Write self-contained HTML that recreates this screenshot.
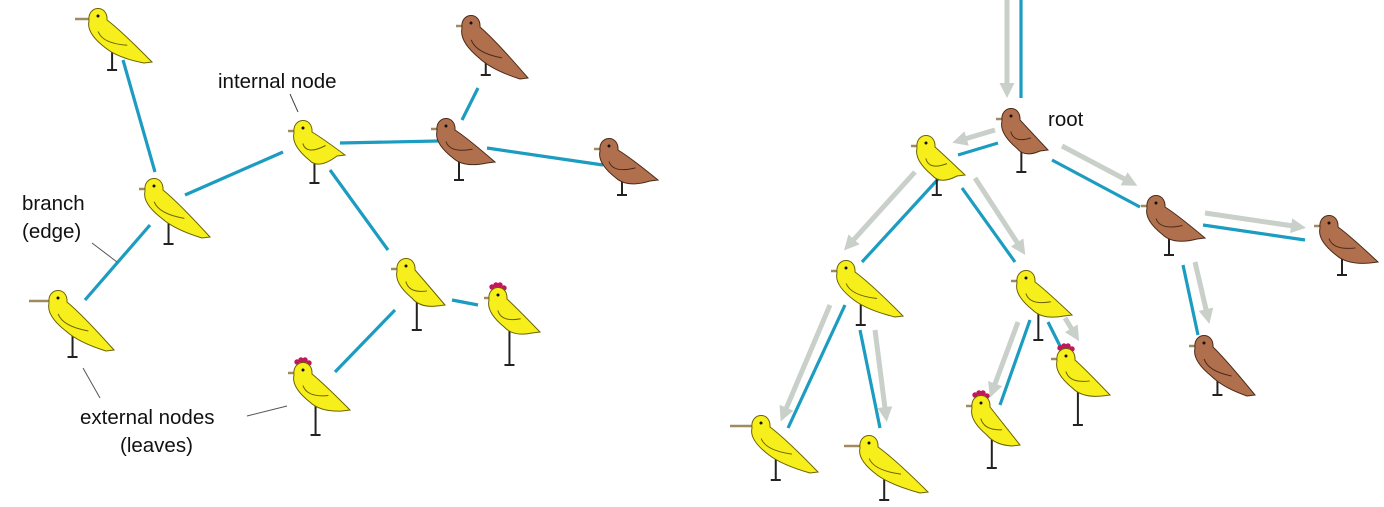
<!DOCTYPE html>
<html><head><meta charset="utf-8"><style>
html,body{margin:0;padding:0;background:#fff;}
svg{display:block;}
text{font-family:"Liberation Sans","DejaVu Sans",sans-serif;font-size:20.5px;fill:#111;}
</style></head>
<body>
<svg id="fig" width="1384" height="507" viewBox="0 0 1384 507" xmlns="http://www.w3.org/2000/svg">
<defs>
<marker id="ah" viewBox="0 0 10 10" refX="6" refY="5" markerWidth="3" markerHeight="3" orient="auto"><path d="M0,0 L10,5 L0,10 z" fill="#c9cfc9"/></marker>
</defs>
<g id="edges"></g>
<g id="arrows"></g>
<g id="birds"></g>
<g>
<text x="218" y="88">internal node</text>
<line x1="290" y1="94" x2="298" y2="112" stroke="#444" stroke-width="1"/>
<text x="22" y="210">branch</text>
<text x="22" y="238">(edge)</text>
<line x1="92" y1="243" x2="117" y2="262" stroke="#555" stroke-width="1"/>
<text x="80" y="424">external nodes</text>
<text x="120" y="452">(leaves)</text>
<line x1="83" y1="368" x2="100" y2="398" stroke="#555" stroke-width="1"/>
<line x1="247" y1="416" x2="287" y2="406" stroke="#555" stroke-width="1"/>
<text x="1048" y="126">root</text>
</g>
</svg>
<script>
var NS="http://www.w3.org/2000/svg";
var birdHeads=[[97,18],[302,130],[153,188],[57,300],[405,268],[497,297],[302,372],[470,25],[445,128],[608,148],
[1010,118],[925,145],[845,270],[1025,280],[1155,205],[1328,225],[1203,345],[760,425],[868,445],[980,405],[1065,358]];
var birdTails=[[152,62],[345,155],[210,237],[114,350],[445,305],[540,332],[350,410],[528,78],[495,162],[658,180],
[1048,150],[965,175],[903,316],[1072,315],[1205,238],[1378,262],[1255,395],[818,472],[928,492],[1020,445],[1110,395]];
var birdFeet=[70,183,244,357,330,365,435,75,180,195,172,195,325,340,255,275,395,480,500,468,425];
var birdColor=["y","y","y","y","y","y","y","b","b","b","b","y","y","y","b","b","b","y","y","y","y"];
var birdComb=[0,0,0,0,0,1,1,0,0,0,0,0,0,0,0,0,0,0,0,1,1];
var birdBeak=[14,6,6,20,6,5,6,6,6,6,6,6,6,6,6,6,6,22,16,6,6];
var blueEdges=[[123,60,155,172],[185,195,283,152],[340,143,438,141],[462,120,478,88],[487,148,603,165],[330,170,388,250],[150,225,85,300],[395,310,335,372],[452,300,478,305],
[1021,0,1021,98],[998,143,958,155],[1052,160,1140,207],[940,177,862,262],[962,188,1015,262],[1203,225,1305,240],[1183,265,1198,335],[845,305,788,428],[860,330,880,428],[1030,320,1000,405],[1048,322,1062,350]];
var grayArrows=[[1007,0,1007,92],[995,130,958,141],[1062,146,1132,183],[915,172,848,246],[975,178,1022,250],[1205,213,1300,227],[1195,262,1208,318],[830,305,783,416],[875,330,886,416],[1018,322,992,392],[1065,318,1076,336]];

function mk(tag,attrs,parent){var e=document.createElementNS(NS,tag);for(var k in attrs)e.setAttribute(k,attrs[k]);parent.appendChild(e);return e;}
var eg=document.getElementById('edges');
blueEdges.forEach(function(d){
 var l=mk('line',{x1:d[0],y1:d[1],x2:d[2],y2:d[3],stroke:'#1b9cc0','stroke-width':3.2},eg);
 
 
});
var ag=document.getElementById('arrows');
grayArrows.forEach(function(d){
 var l=mk('line',{x1:d[0],y1:d[1],x2:d[2],y2:d[3],stroke:'#c9cfc9','stroke-width':5,'marker-end':'url(#ah)'},ag);
 
 
});
var bg=document.getElementById('birds');
birdHeads.forEach(function(h,i){
 var hx=h[0],hy=h[1],tx=birdTails[i][0],ty=birdTails[i][1],fy=birdFeet[i];
 var dx=tx-hx,dy=ty-hy;
 var fill=birdColor[i]=="y"?"#f7ef1c":"#b0704e";
 var edge=birdColor[i]=="y"?"#6b6200":"#4a2a18";
 var g=mk('g',{},bg);
 
 
 var by=Math.max(0.62*dy,30), bcy=Math.max(0.85*dy,40);
 var legx=hx+0.22*dx+3;
 mk('line',{x1:legx,y1:hy+by-2,x2:legx,y2:fy,stroke:'#222','stroke-width':2},g);
 mk('line',{x1:legx-5,y1:fy,x2:legx+5,y2:fy,stroke:'#222','stroke-width':2},g);
 mk('line',{x1:hx-8,y1:hy+1,x2:hx-8-birdBeak[i],y2:hy+1,stroke:'#a08a60','stroke-width':2.5},g);
 if(birdComb[i]){[[-5,-10],[-1,-12],[3,-12],[7,-9]].forEach(function(c){mk('circle',{cx:hx+c[0],cy:hy+c[1],r:2.7,fill:'#c0185a'},g);});}
 var p="M"+(hx-8)+","+(hy+3)+" C"+(hx-10)+","+(hy-13)+" "+(hx+11)+","+(hy-14)+" "+(hx+10)+","+(hy+2)+
 " Q"+(hx+0.45*dx)+","+(hy+0.3*dy)+" "+tx+","+ty+
 " L"+(tx-8)+","+(ty+1)+
 " Q"+(hx+0.38*dx)+","+(hy+bcy)+" "+(hx+0.12*dx+2)+","+(hy+by)+
 " Q"+(hx-11)+","+(hy+0.5*by)+" "+(hx-8)+","+(hy+3)+" Z";
 mk('path',{d:p,fill:fill,stroke:edge,'stroke-width':1},g);
 mk('path',{d:"M"+(hx+0.02*dx)+","+(hy+0.45*by)+" Q"+(hx+0.1*dx)+","+(hy+0.85*by)+" "+(hx+0.55*dx)+","+(hy+0.62*dy),fill:'none',stroke:edge,'stroke-width':1},g);
 mk('circle',{cx:hx+1,cy:hy-2,r:1.5,fill:'#111'},g);
});
</script>
</body></html>
